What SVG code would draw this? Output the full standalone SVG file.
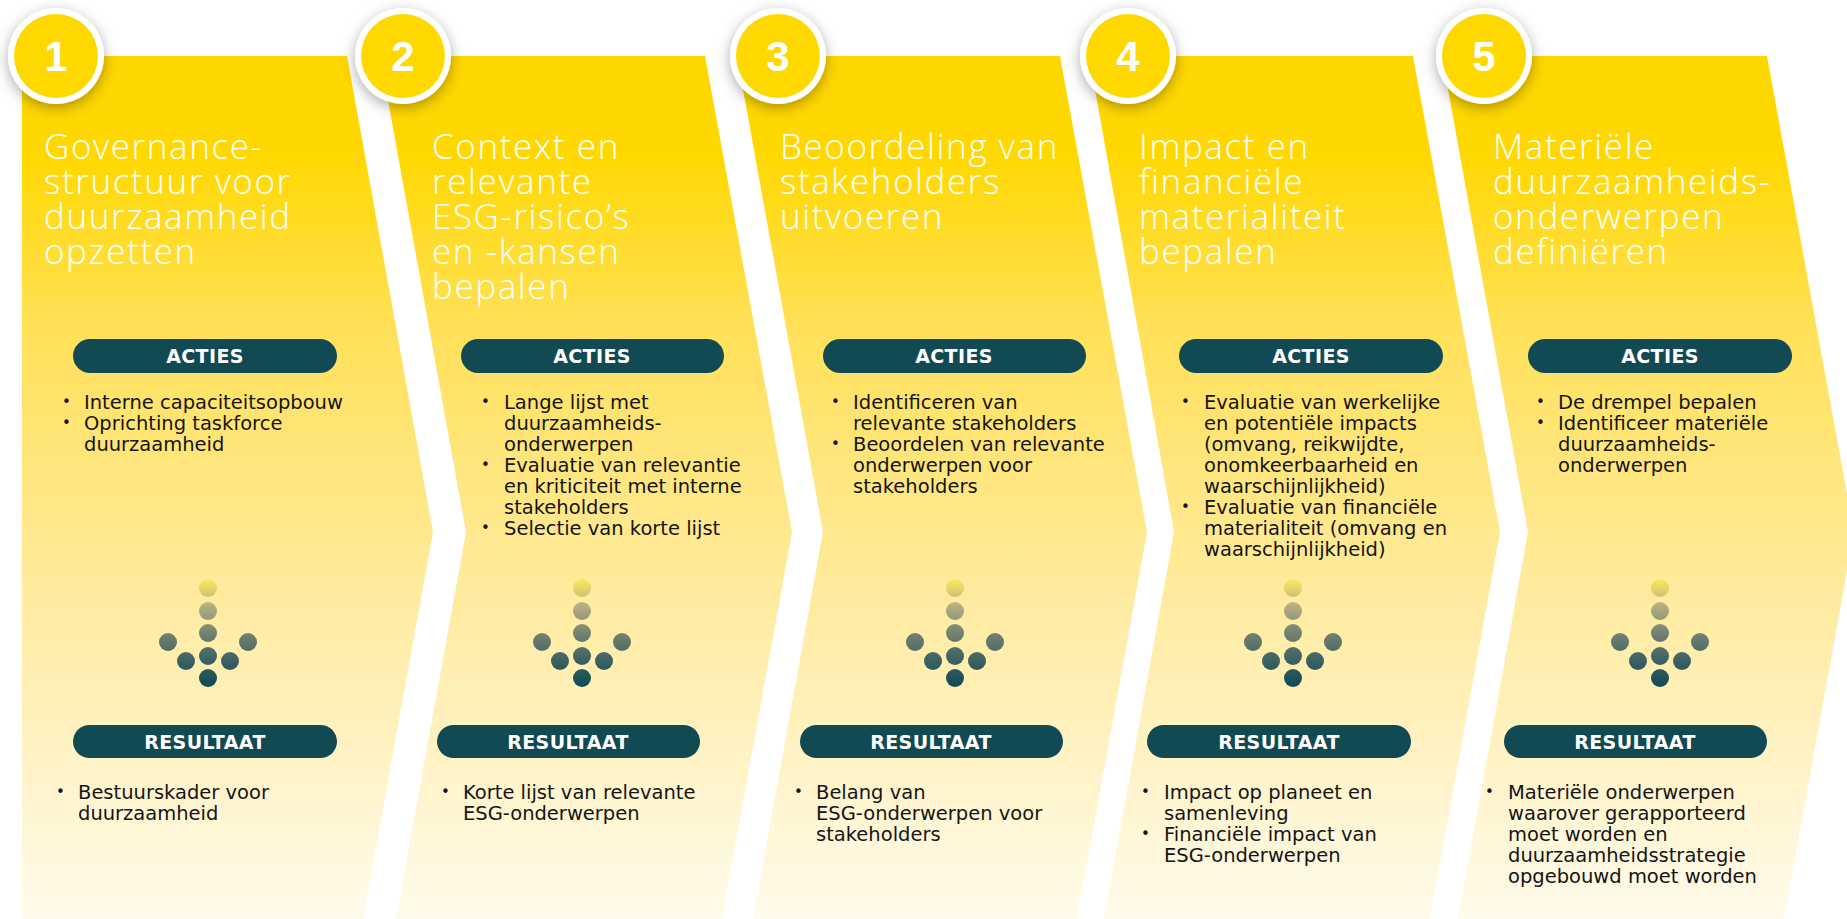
<svg xmlns="http://www.w3.org/2000/svg" width="1847" height="919" viewBox="0 0 1847 919">
<defs>
<linearGradient id="panelGrad" gradientUnits="userSpaceOnUse" x1="0" y1="56" x2="0" y2="919">
<stop offset="0" stop-color="#FFD700"/>
<stop offset="0.11" stop-color="#FFD800"/>
<stop offset="0.32" stop-color="#FFE15A"/>
<stop offset="0.63" stop-color="#FFEBA0"/>
<stop offset="1" stop-color="#FFFBEC"/>
</linearGradient>
<linearGradient id="dotGrad" gradientUnits="userSpaceOnUse" x1="0" y1="579" x2="0" y2="687">
<stop offset="0" stop-color="#FFE85E"/>
<stop offset="0.25" stop-color="#B4AE80"/>
<stop offset="0.5" stop-color="#748270"/>
<stop offset="0.75" stop-color="#3D6262"/>
<stop offset="1" stop-color="#0D4A56"/>
</linearGradient>
<filter id="shadow" x="-50%" y="-50%" width="200%" height="200%">
<feDropShadow dx="0" dy="4" stdDeviation="7" flood-color="#000" flood-opacity="0.33"/>
</filter>
<g id="dots">
<circle cx="0" cy="588" r="9"/>
<circle cx="0" cy="611" r="9"/>
<circle cx="0" cy="633" r="9"/>
<circle cx="-40" cy="642" r="9"/>
<circle cx="40" cy="642" r="9"/>
<circle cx="0" cy="656" r="9"/>
<circle cx="-22" cy="661" r="9"/>
<circle cx="22" cy="661" r="9"/>
<circle cx="0" cy="678" r="9"/>
</g>
</defs>
<style>
.panel{fill:url(#panelGrad)}
.ring{fill:#FFFFFF;filter:url(#shadow)}
.disc{fill:#FFD800}
.num{font-family:"Liberation Sans",Arial,sans-serif;font-weight:bold;font-size:42px;fill:#FFFFFF;text-anchor:middle}
.title{font-family:"Open Sans","Noto Sans",sans-serif;font-weight:300;font-size:35px;letter-spacing:1.6px;fill:#FFFFFF}
.pill{fill:#124A54}
.label{font-family:"DejaVu Sans",sans-serif;font-weight:bold;font-size:19px;letter-spacing:0.4px;fill:#FFFFFF;text-anchor:middle}
.body{font-family:"DejaVu Sans",sans-serif;font-size:19.5px;fill:#151515}
.bullet{font-family:"DejaVu Sans",sans-serif;font-size:15px;fill:#151515}
.dots{fill:url(#dotGrad)}
</style>
<rect x="0" y="0" width="1847" height="919" fill="#FFFFFF"/>
<g id="connectors"/>

<g id="step1">
<polygon class="panel" points="22,56 347,56 433,532 363,919 22,919"/>
<circle class="ring" cx="56" cy="56" r="48"/>
<circle class="disc" cx="56" cy="56" r="42"/>
<text class="num" x="56" y="71">1</text>
<text class="title" x="44" y="159"><tspan x="44">Governance-</tspan><tspan x="44" dy="35">structuur voor</tspan><tspan x="44" dy="35">duurzaamheid</tspan><tspan x="44" dy="35">opzetten</tspan></text>
<rect class="pill" x="73" y="339" width="264" height="34" rx="17"/>
<text class="label" x="205" y="363">ACTIES</text>
<text class="bullet" x="62" y="407">•</text>
<text class="bullet" x="62" y="428">•</text>
<text class="body" x="84" y="409"><tspan x="84">Interne capaciteitsopbouw</tspan><tspan x="84" dy="21">Oprichting taskforce</tspan><tspan x="84" dy="21">duurzaamheid</tspan></text>
<use href="#dots" class="dots" x="208"/>
<rect class="pill" x="73" y="725" width="264" height="33" rx="16.5"/>
<text class="label" x="205" y="748.5">RESULTAAT</text>
<text class="bullet" x="56" y="797">•</text>
<text class="body" x="78" y="799"><tspan x="78">Bestuurskader voor</tspan><tspan x="78" dy="21">duurzaamheid</tspan></text>
</g>

<g id="step2">
<polygon class="panel" points="380,56 705,56 792,532 722,919 396,919 466,532"/>
<circle class="ring" cx="403" cy="56" r="48"/>
<circle class="disc" cx="403" cy="56" r="42"/>
<text class="num" x="403" y="71">2</text>
<text class="title" x="432" y="159"><tspan x="432">Context en</tspan><tspan x="432" dy="35">relevante</tspan><tspan x="432" dy="35">ESG-risico’s</tspan><tspan x="432" dy="35">en -kansen</tspan><tspan x="432" dy="35">bepalen</tspan></text>
<rect class="pill" x="461" y="339" width="263" height="34" rx="17"/>
<text class="label" x="592" y="363">ACTIES</text>
<text class="bullet" x="481" y="407">•</text>
<text class="bullet" x="481" y="470">•</text>
<text class="bullet" x="481" y="533">•</text>
<text class="body" x="504" y="409"><tspan x="504">Lange lijst met</tspan><tspan x="504" dy="21">duurzaamheids-</tspan><tspan x="504" dy="21">onderwerpen</tspan><tspan x="504" dy="21">Evaluatie van relevantie</tspan><tspan x="504" dy="21">en kriticiteit met interne</tspan><tspan x="504" dy="21">stakeholders</tspan><tspan x="504" dy="21">Selectie van korte lijst</tspan></text>
<use href="#dots" class="dots" x="582"/>
<rect class="pill" x="437" y="725" width="263" height="33" rx="16.5"/>
<text class="label" x="568" y="748.5">RESULTAAT</text>
<text class="bullet" x="441" y="797">•</text>
<text class="body" x="463" y="799"><tspan x="463">Korte lijst van relevante</tspan><tspan x="463" dy="21">ESG-onderwerpen</tspan></text>
</g>

<g id="step3">
<polygon class="panel" points="737,56 1060,56 1147,532 1077,919 753,919 823,532"/>
<circle class="ring" cx="778" cy="56" r="48"/>
<circle class="disc" cx="778" cy="56" r="42"/>
<text class="num" x="778" y="71">3</text>
<text class="title" x="780" y="159"><tspan x="780">Beoordeling van</tspan><tspan x="780" dy="35">stakeholders</tspan><tspan x="780" dy="35">uitvoeren</tspan></text>
<rect class="pill" x="823" y="339" width="263" height="34" rx="17"/>
<text class="label" x="954" y="363">ACTIES</text>
<text class="bullet" x="831" y="407">•</text>
<text class="bullet" x="831" y="449">•</text>
<text class="body" x="853" y="409"><tspan x="853">Identificeren van</tspan><tspan x="853" dy="21">relevante stakeholders</tspan><tspan x="853" dy="21">Beoordelen van relevante</tspan><tspan x="853" dy="21">onderwerpen voor</tspan><tspan x="853" dy="21">stakeholders</tspan></text>
<use href="#dots" class="dots" x="955"/>
<rect class="pill" x="800" y="725" width="263" height="33" rx="16.5"/>
<text class="label" x="931" y="748.5">RESULTAAT</text>
<text class="bullet" x="794" y="797">•</text>
<text class="body" x="816" y="799"><tspan x="816">Belang van</tspan><tspan x="816" dy="21">ESG-onderwerpen voor</tspan><tspan x="816" dy="21">stakeholders</tspan></text>
</g>

<g id="step4">
<polygon class="panel" points="1089,56 1413,56 1500,532 1430,919 1104,919 1174,532"/>
<circle class="ring" cx="1128" cy="56" r="48"/>
<circle class="disc" cx="1128" cy="56" r="42"/>
<text class="num" x="1128" y="71">4</text>
<text class="title" x="1139" y="159"><tspan x="1139">Impact en</tspan><tspan x="1139" dy="35">financiële</tspan><tspan x="1139" dy="35">materialiteit</tspan><tspan x="1139" dy="35">bepalen</tspan></text>
<rect class="pill" x="1179" y="339" width="264" height="34" rx="17"/>
<text class="label" x="1311" y="363">ACTIES</text>
<text class="bullet" x="1181" y="407">•</text>
<text class="bullet" x="1181" y="512">•</text>
<text class="body" x="1204" y="409"><tspan x="1204">Evaluatie van werkelijke</tspan><tspan x="1204" dy="21">en potentiële impacts</tspan><tspan x="1204" dy="21">(omvang, reikwijdte,</tspan><tspan x="1204" dy="21">onomkeerbaarheid en</tspan><tspan x="1204" dy="21">waarschijnlijkheid)</tspan><tspan x="1204" dy="21">Evaluatie van financiële</tspan><tspan x="1204" dy="21">materialiteit (omvang en</tspan><tspan x="1204" dy="21">waarschijnlijkheid)</tspan></text>
<use href="#dots" class="dots" x="1293"/>
<rect class="pill" x="1147" y="725" width="264" height="33" rx="16.5"/>
<text class="label" x="1279" y="748.5">RESULTAAT</text>
<text class="bullet" x="1141" y="797">•</text>
<text class="bullet" x="1141" y="839">•</text>
<text class="body" x="1164" y="799"><tspan x="1164">Impact op planeet en</tspan><tspan x="1164" dy="21">samenleving</tspan><tspan x="1164" dy="21">Financiële impact van</tspan><tspan x="1164" dy="21">ESG-onderwerpen</tspan></text>
</g>

<g id="step5">
<polygon class="panel" points="1442,56 1767,56 1854,532 1784,919 1458,919 1528,532"/>
<circle class="ring" cx="1484" cy="56" r="48"/>
<circle class="disc" cx="1484" cy="56" r="42"/>
<text class="num" x="1484" y="71">5</text>
<text class="title" x="1493" y="159"><tspan x="1493">Materiële</tspan><tspan x="1493" dy="35">duurzaamheids-</tspan><tspan x="1493" dy="35">onderwerpen</tspan><tspan x="1493" dy="35">definiëren</tspan></text>
<rect class="pill" x="1528" y="339" width="264" height="34" rx="17"/>
<text class="label" x="1660" y="363">ACTIES</text>
<text class="bullet" x="1536" y="407">•</text>
<text class="bullet" x="1536" y="428">•</text>
<text class="body" x="1558" y="409"><tspan x="1558">De drempel bepalen</tspan><tspan x="1558" dy="21">Identificeer materiële</tspan><tspan x="1558" dy="21">duurzaamheids-</tspan><tspan x="1558" dy="21">onderwerpen</tspan></text>
<use href="#dots" class="dots" x="1660"/>
<rect class="pill" x="1504" y="725" width="263" height="33" rx="16.5"/>
<text class="label" x="1635" y="748.5">RESULTAAT</text>
<text class="bullet" x="1485" y="797">•</text>
<text class="body" x="1508" y="799"><tspan x="1508">Materiële onderwerpen</tspan><tspan x="1508" dy="21">waarover gerapporteerd</tspan><tspan x="1508" dy="21">moet worden en</tspan><tspan x="1508" dy="21">duurzaamheidsstrategie</tspan><tspan x="1508" dy="21">opgebouwd moet worden</tspan></text>
</g>
</svg>
